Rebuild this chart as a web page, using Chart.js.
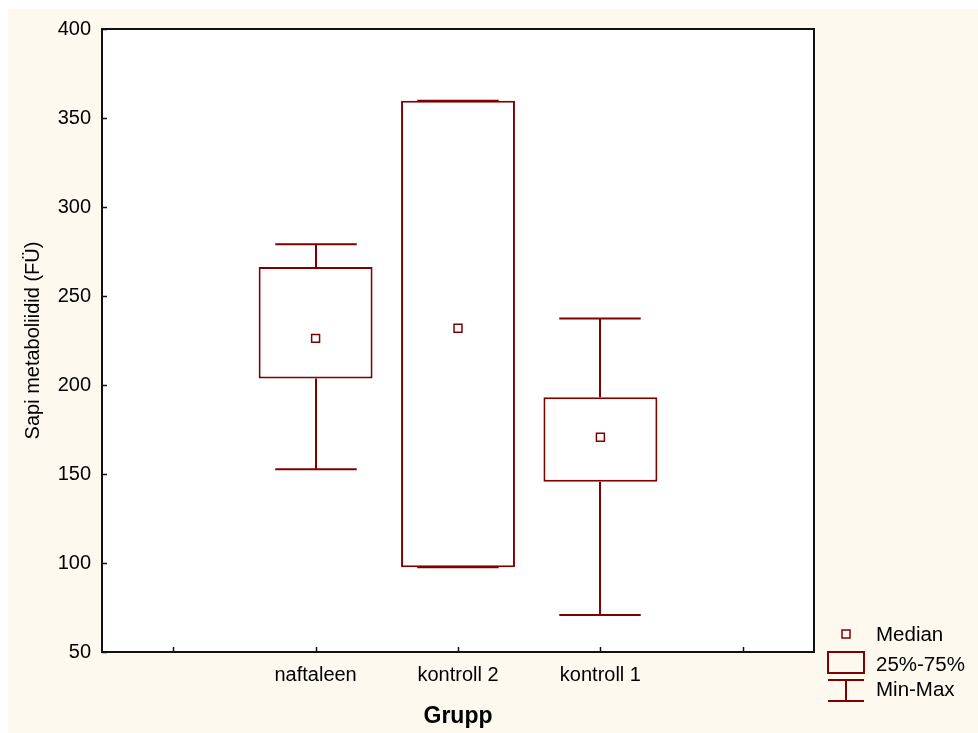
<!DOCTYPE html>
<html>
<head>
<meta charset="utf-8">
<script src="https://cdn.jsdelivr.net/npm/chart.js@4.4.1/dist/chart.umd.min.js"></script>
<style>
  html, body { margin: 0; padding: 0; background: #fff; }
  #wrap { width: 978px; height: 733px; position: relative; }
  canvas { display: block; }
</style>
</head>
<body>
<div id="wrap"><canvas id="c" width="978" height="733"></canvas></div>
<script>
// Groups on the x axis (empty slots at both ends)
const groups = ['', 'naftaleen', 'kontroll 2', 'kontroll 1', ''];
// Box-plot statistics per group
const minVals    = [null, 152.6,  97.6,  70.8, null];
const q1Vals     = [null, 203.7,  97.6, 145.6, null];
const medianVals = [null, 226.2, 231.9, 170.6, null];
const q3Vals     = [null, 266.3, 359.7, 193.1, null];
const maxVals    = [null, 279.1, 359.7, 237.3, null];
// Y axis tick values
const yTicks = [50, 100, 150, 200, 250, 300, 350, 400];

const RED = '#800000';
const FONT = "'Liberation Sans', Arial, sans-serif";

// Page background, cream panel and white plot area
const backdrop = {
  id: 'backdrop',
  beforeDraw(chart) {
    const { ctx, width, height, chartArea: a } = chart;
    ctx.save();
    ctx.fillStyle = '#fff';
    ctx.fillRect(0, 0, width, height);
    ctx.fillStyle = '#FDF9EF';
    ctx.fillRect(8, 9, width - 8, height - 9);
    ctx.fillStyle = '#fff';
    ctx.fillRect(a.left, a.top, a.right - a.left, a.bottom - a.top);
    ctx.restore();
  }
};

// Min-Max whiskers with caps
const whiskers = {
  id: 'whiskers',
  beforeDatasetsDraw(chart) {
    const { ctx, scales: { x, y } } = chart;
    const half = (x.getPixelForTick(1) - x.getPixelForTick(0)) * 0.286;
    ctx.save();
    ctx.strokeStyle = RED;
    ctx.lineWidth = 2;
    groups.forEach((g, i) => {
      if (minVals[i] == null) return;
      const cx = Math.round(x.getPixelForValue(i));
      const pMin = y.getPixelForValue(minVals[i]);
      const pMax = y.getPixelForValue(maxVals[i]);
      const pQ1 = y.getPixelForValue(q1Vals[i]);
      const pQ3 = y.getPixelForValue(q3Vals[i]);
      ctx.beginPath();
      ctx.moveTo(cx, pQ3); ctx.lineTo(cx, pMax);
      ctx.moveTo(cx, pQ1); ctx.lineTo(cx, pMin);
      ctx.moveTo(cx - half, pMax); ctx.lineTo(cx + half, pMax);
      ctx.moveTo(cx - half, pMin); ctx.lineTo(cx + half, pMin);
      ctx.stroke();
    });
    ctx.restore();
  }
};

// Plot frame with inward tick marks, and the legend box
const frameAndLegend = {
  id: 'frameAndLegend',
  afterDraw(chart) {
    const { ctx, chartArea: a, scales: { x, y } } = chart;
    ctx.save();
    ctx.strokeStyle = '#111';
    ctx.lineWidth = 2;
    ctx.strokeRect(a.left, a.top, a.right - a.left, a.bottom - a.top);
    ctx.beginPath();
    y.ticks.forEach(t => {
      const py = Math.round(y.getPixelForValue(t.value)) + 0.5;
      ctx.moveTo(a.left, py); ctx.lineTo(a.left + 5, py);
    });
    x.ticks.forEach((t, i) => {
      const px = Math.round(x.getPixelForTick(i)) + 0.5;
      ctx.moveTo(px, a.bottom); ctx.lineTo(px, a.bottom - 5);
    });
    ctx.lineWidth = 1.5;
    ctx.stroke();

    // legend
    const lx = a.right + 14, iw = 36, cx = lx + iw / 2, tx = lx + 48;
    ctx.strokeStyle = RED;
    ctx.fillStyle = '#fff';
    ctx.lineWidth = 1.5;
    ctx.fillRect(cx - 4, a.bottom - 22, 8, 8);
    ctx.strokeRect(cx - 4, a.bottom - 22, 8, 8);
    ctx.lineWidth = 2;
    ctx.strokeRect(lx, a.bottom, iw, 21);
    ctx.beginPath();
    ctx.moveTo(lx, a.bottom + 28); ctx.lineTo(lx + iw, a.bottom + 28);
    ctx.moveTo(cx, a.bottom + 28); ctx.lineTo(cx, a.bottom + 49);
    ctx.moveTo(lx, a.bottom + 49); ctx.lineTo(lx + iw, a.bottom + 49);
    ctx.stroke();
    ctx.fillStyle = '#000';
    ctx.font = '20.5px ' + FONT;
    ctx.textBaseline = 'middle';
    ctx.textAlign = 'left';
    ctx.fillText('Median', tx, a.bottom - 17);
    ctx.fillText('25%-75%', tx, a.bottom + 13);
    ctx.fillText('Min-Max', tx, a.bottom + 38);
    ctx.restore();
  }
};

new Chart(document.getElementById('c'), {
  type: 'bar',
  data: {
    labels: groups,
    datasets: [
      {
        type: 'line',
        label: 'Median',
        data: medianVals,
        showLine: false,
        pointStyle: 'rect',
        pointRadius: 5.6,
        pointBorderWidth: 1.5,
        pointBackgroundColor: '#fff',
        pointBorderColor: RED,
        order: 0
      },
      {
        label: '25%-75%',
        data: groups.map((g, i) => q1Vals[i] == null ? null : [q1Vals[i], q3Vals[i]]),
        backgroundColor: '#fff',
        borderColor: RED,
        borderWidth: 2,
        borderSkipped: false,
        barPercentage: 0.8,
        categoryPercentage: 1.0,
        order: 1
      }
    ]
  },
  options: {
    responsive: false,
    animation: false,
    devicePixelRatio: 1,
    layout: { padding: { left: 0, top: 29, right: 164, bottom: 0 } },
    plugins: { legend: { display: false }, tooltip: { enabled: false } },
    scales: {
      x: {
        type: 'category',
        offset: true,
        grid: { display: false, drawTicks: false },
        border: { display: false },
        ticks: { color: '#000', font: { family: FONT, size: 20 }, padding: 11, maxRotation: 0, autoSkip: false },
        title: { display: true, text: 'Grupp', color: '#000', font: { family: FONT, size: 23, weight: 'bold' }, padding: { top: 0, bottom: 3 } },
        afterFit(s) { s.height = 81; }
      },
      y: {
        min: 50,
        max: 400,
        grid: { display: false, drawTicks: false },
        border: { display: false },
        afterBuildTicks(s) { s.ticks = yTicks.map(v => ({ value: v })); },
        ticks: { color: '#000', font: { family: FONT, size: 20 }, padding: 11 },
        title: { display: true, text: 'Sapi metaboliidid (FÜ)', color: '#000', font: { family: FONT, size: 20 }, padding: { top: 21, bottom: 0 } },
        afterFit(s) { s.width = 102; }
      }
    }
  },
  plugins: [backdrop, whiskers, frameAndLegend]
});
</script>
</body>
</html>
